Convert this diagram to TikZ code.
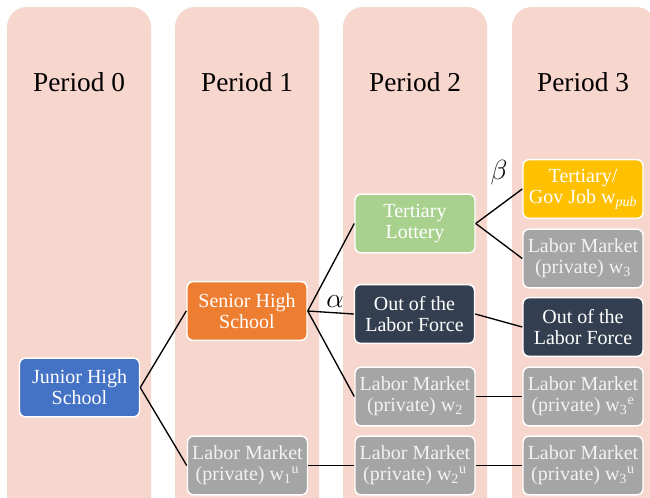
\documentclass[tikz,border=0pt]{standalone}
\usepackage{fontspec}
\setmainfont{Liberation Serif}
\definecolor{colpink}{HTML}{F7D6CD}
\definecolor{jblue}{HTML}{4472C4}
\definecolor{sorange}{HTML}{ED7D31}
\definecolor{tgreen}{HTML}{A9D18E}
\definecolor{gold}{HTML}{FFC000}
\definecolor{lgray}{HTML}{A5A5A5}
\definecolor{navy}{HTML}{333F50}
\begin{document}
\begin{tikzpicture}[x=0.75pt,y=-0.75pt,
  column/.style={fill=colpink, rounded corners=15pt},
  period/.style={font=\fontsize{20.5}{24}\selectfont, text=black},
  box/.style={draw=white, line width=1.1pt, rounded corners=4.5pt, minimum width=90pt, minimum height=44pt,
    inner sep=0pt, align=center, text=white, font=\fontsize{15}{15.8}\selectfont},
  graybox/.style={box, fill=lgray, text=white!95!black},
  link/.style={draw=black, line width=1pt},
  greek/.style={font=\fontsize{21}{22}\selectfont}]
\useasboundingbox (0,0) rectangle (650,497);
\clip (0,0) rectangle (650,497);
% columns
\fill[column] (7,7) rectangle (151,540);
\fill[column] (175,7) rectangle (319,540);
\fill[column] (343,7) rectangle (487,540);
\fill[column] (512,7) rectangle (656,540);
% period labels
\node[period] (p0) at (79,82) {Period 0};
\node[period] (p1) at (247,82) {Period 1};
\node[period] (p2) at (415,82) {Period 2};
\node[period] (p3) at (583,82) {Period 3};
% nodes
\node[box, fill=jblue] (jhs) at (79.5,387.5) {Junior High\\School};
\node[box, fill=sorange] (shs) at (247,311) {Senior High\\School};
\node[graybox] (w1u) at (247.5,465.5) {Labor Market\\(private) w\textsubscript{1}\textsuperscript{u}};
\node[box, fill=tgreen] (tl) at (415,223.5) {Tertiary\\Lottery};
\node[box, fill=navy] (olf2) at (414.5,314) {Out of the\\Labor Force};
\node[graybox] (lm2) at (415,396.5) {Labor Market\\(private) w\textsubscript{2}};
\node[graybox] (w2u) at (415,465.5) {Labor Market\\(private) w\textsubscript{2}\textsuperscript{u}};
\node[box, fill=gold] (gov) at (583,189) {Tertiary/\\Gov Job w\textsubscript{\itshape pub}};
\node[graybox] (lm3) at (583,258.5) {Labor Market\\(private) w\textsubscript{3}};
\node[box, fill=navy] (olf3) at (583,327) {Out of the\\Labor Force};
\node[graybox] (w3e) at (583,396.5) {Labor Market\\(private) w\textsubscript{3}\textsuperscript{e}};
\node[graybox] (w3u) at (583,465.5) {Labor Market\\(private) w\textsubscript{3}\textsuperscript{u}};
% connectors
\draw[link] (jhs.east) -- (shs.west);
\draw[link] (jhs.east) -- (w1u.west);
\draw[link] (shs.east) -- (tl.west);
\draw[link] (shs.east) -- (olf2.west);
\draw[link] (shs.east) -- (lm2.west);
\draw[link] (tl.east) -- (gov.west);
\draw[link] (tl.east) -- (lm3.west);
\draw[link] (olf2.east) -- (olf3.west);
\draw[link] (lm2.east) -- (w3e.west);
\draw[link] (w1u.east) -- (w2u.west);
\draw[link] (w2u.east) -- (w3u.west);
% labels
\node[greek] (alpha) at (335,302) {$\alpha$};
\node[greek] (beta) at (499,173) {$\beta$};
\end{tikzpicture}
\end{document}
